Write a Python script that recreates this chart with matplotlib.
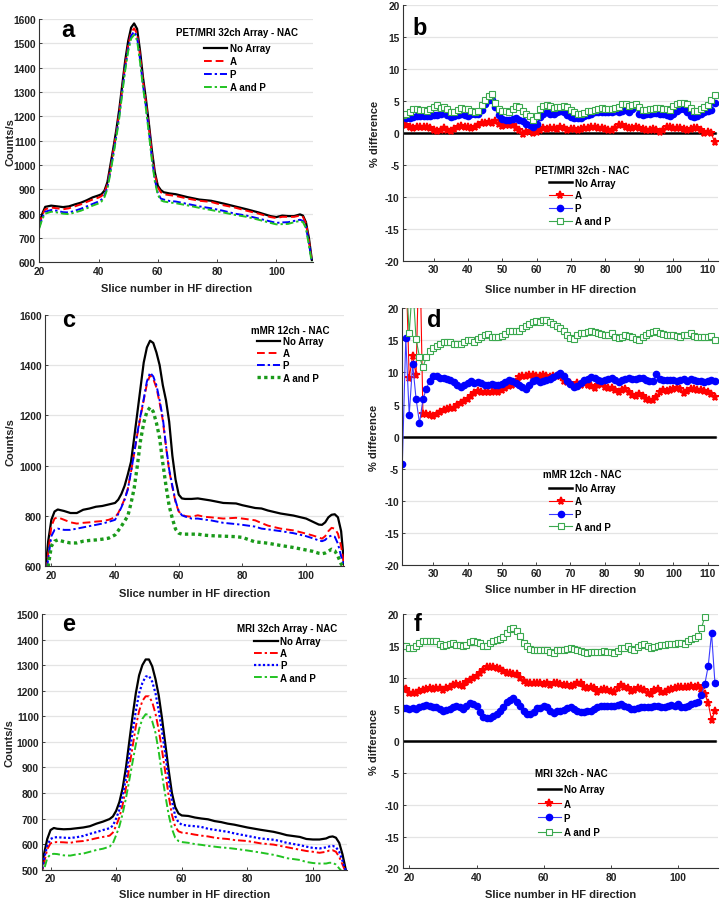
import numpy as np
import matplotlib
matplotlib.use("Agg")
import matplotlib.pyplot as plt
from matplotlib.font_manager import FontProperties

plt.rcParams['font.family'] = ['Liberation Sans', 'DejaVu Sans']
plt.rcParams['font.weight'] = 'bold'
plt.rcParams['axes.unicode_minus'] = False

# ---------------- Panel a : PET/MRI 32ch Array - NAC (profiles) ----------------
a_x = [20, 21, 22, 24, 26, 28, 30, 32, 34, 36, 38, 40, 41, 42, 43, 44, 45, 46, 47, 48,
       49, 50, 51, 52, 53, 54, 55, 56, 57, 58, 59, 60, 61, 62, 64, 66, 70, 74, 78, 82,
       86, 90, 94, 98, 100, 102, 104, 106, 108, 109, 110, 111, 112]
a_none = [760, 800, 828, 833, 830, 827, 830, 838, 845, 855, 867, 875, 880, 895, 930, 1000, 1070, 1145, 1230, 1330,
          1430, 1510, 1565, 1582, 1560, 1470, 1360, 1270, 1170, 1060, 970, 915, 897, 888, 883, 880, 868, 858, 853, 842,
          830, 818, 805, 790, 786, 792, 790, 790, 797, 792, 765, 700, 610]
a_A = [755, 795, 818, 825, 822, 818, 822, 830, 838, 848, 858, 866, 872, 888, 920, 985, 1058, 1132, 1215, 1315,
       1412, 1490, 1545, 1562, 1540, 1450, 1345, 1255, 1155, 1045, 960, 908, 888, 880, 876, 873, 862, 853, 848, 835,
       825, 812, 800, 786, 782, 787, 787, 787, 792, 787, 760, 690, 605]
a_P = [745, 785, 808, 815, 812, 806, 805, 812, 820, 830, 840, 850, 858, 875, 910, 975, 1048, 1122, 1205, 1305,
       1400, 1478, 1532, 1548, 1525, 1435, 1330, 1240, 1140, 1030, 940, 885, 862, 858, 852, 850, 840, 830, 822, 812,
       800, 792, 780, 768, 762, 764, 765, 770, 775, 770, 745, 680, 600]
a_AP = [740, 778, 800, 808, 805, 800, 798, 805, 812, 822, 833, 842, 850, 868, 903, 967, 1040, 1113, 1195, 1295,
        1390, 1468, 1520, 1535, 1513, 1423, 1320, 1230, 1128, 1020, 932, 878, 855, 850, 846, 843, 834, 824, 815, 805,
        795, 787, 775, 762, 756, 757, 758, 765, 770, 765, 740, 670, 598]

# ---------------- Panel b : % difference PET/MRI 32ch ----------------
b_x = list(range(21, 113))
b_A = [1.7, 1.3, 0.9, 0.8, 1.0, 1.0, 0.9, 1.0, 0.8, 0.5,
       0.3, 0.5, 0.8, 0.4, 0.3, 0.6, 0.9, 1.1, 0.9, 1.0,
       0.8, 1.0, 1.3, 1.6, 1.6, 1.7, 1.5, 1.8, 1.4, 1.1,
       1.2, 1.3, 1.2, 0.8, 0.5, -0.2, 0.1, 0.3, 0.0, 0.2,
       0.5, 0.8, 0.6, 0.8, 0.7, 0.6, 0.9, 0.8, 0.5, 0.6,
       0.6, 0.5, 0.6, 0.7, 0.8, 1.0, 0.9, 0.8, 0.7, 0.6,
       0.5, 0.4, 0.8, 1.2, 1.2, 0.9, 0.8, 0.8, 0.9, 0.8,
       0.6, 0.5, 0.5, 0.6, 0.5, 0.2, 0.5, 0.9, 1.0, 0.8,
       0.7, 0.8, 0.6, 0.5, 0.6, 0.8, 0.8, 0.4, 0.0, 0.1,
       0.0, -1.4]
b_P = [2.6, 2.4, 2.4, 2.5, 2.7, 2.6, 2.6, 2.6, 2.7, 2.8,
       2.8, 3.0, 3.2, 2.8, 2.5, 2.6, 2.8, 3.0, 2.8, 2.7,
       2.9, 3.0, 2.9, 3.6, 4.5, 5.1, 5.2, 4.0, 2.8, 2.2,
       2.1, 2.1, 2.2, 2.3, 2.1, 1.8, 1.4, 1.3, 1.0, 1.4,
       2.5, 3.0, 3.2, 3.0, 2.9, 3.3, 3.5, 3.2, 2.8, 2.5,
       2.3, 2.3, 2.4, 2.6, 2.8, 3.0, 3.2, 3.2, 3.2, 3.3,
       3.3, 3.3, 3.4, 3.3, 3.5, 3.6, 3.3, 3.8, 4.0, 3.0,
       2.8, 2.9, 3.0, 3.1, 3.1, 3.0, 3.0, 2.8, 2.7, 3.0,
       3.5, 3.8, 3.7, 3.2, 2.7, 2.5, 2.6, 2.9, 3.2, 3.5,
       3.6, 4.7]
b_AP = [2.8, 2.9, 3.2, 3.7, 3.7, 3.6, 3.6, 3.4, 3.7, 4.0,
        4.3, 3.9, 4.1, 3.8, 3.3, 3.3, 3.6, 3.9, 3.8, 3.7,
        3.5, 3.3, 3.5, 4.3, 5.2, 5.8, 6.1, 4.7, 3.7, 3.5,
        3.4, 3.2, 3.7, 4.2, 4.1, 3.5, 3.0, 2.6, 2.0, 2.6,
        3.7, 4.2, 4.3, 4.2, 3.9, 4.0, 4.1, 4.2, 4.0, 3.6,
        3.2, 3.0, 3.0, 3.1, 3.4, 3.5, 3.6, 3.8, 3.9, 3.8,
        3.7, 3.8, 3.9, 4.0, 4.6, 4.5, 4.2, 4.4, 4.6, 4.0,
        3.6, 3.6, 3.7, 3.8, 3.9, 3.9, 3.8, 3.7, 3.6, 4.2,
        4.6, 4.7, 4.7, 4.6, 3.9, 3.5, 3.5, 3.7, 4.0, 4.4,
        5.1, 6.0]
b_none = [0.0] * len(b_x)

# ---------------- Panel c : mMR 12ch - NAC (profiles) ----------------
c_x = [18, 19, 20, 21, 22, 24, 26, 28, 30, 32, 34, 36, 38,
       40, 41, 42, 43, 44, 45, 46, 47, 48, 49, 50, 51, 52, 53, 54, 55, 56, 57, 58, 59, 60, 61, 62,
       64, 66, 68, 70, 74, 78, 80, 84, 86, 88, 92, 96, 100,
       102, 104, 105, 106, 107, 108, 109, 110, 111, 112]
c_none = [560, 700, 785, 818, 826, 820, 812, 812, 825, 830, 837, 840, 846,
          852, 865, 888, 920, 965, 1015, 1110, 1210, 1310, 1410, 1470, 1497, 1488, 1450, 1400, 1320, 1260, 1175, 1040, 945, 885, 870, 868,
          868, 870, 866, 862, 852, 850, 843, 832, 830, 822, 810, 802, 790,
          778, 766, 765, 775, 795, 805, 807, 795, 740, 600]
c_A = [540, 650, 760, 790, 795, 785, 775, 770, 773, 775, 778, 780, 785,
       795, 812, 838, 868, 908, 975, 1048, 1125, 1195, 1260, 1325, 1360, 1345, 1310, 1250, 1180, 1075, 980, 915, 855, 818, 806, 800,
       797, 803, 797, 795, 790, 793, 790, 783, 772, 762, 750, 743, 730,
       723, 715, 710, 720, 740, 753, 750, 730, 680, 600]
c_P = [530, 630, 720, 745, 750, 745, 745, 750, 755, 760, 765, 770, 777,
       785, 808, 835, 865, 905, 975, 1050, 1130, 1200, 1265, 1335, 1370, 1355, 1320, 1260, 1190, 1080, 985, 920, 860, 820, 803, 798,
       790, 790, 786, 783, 773, 768, 765, 758, 750, 747, 740, 732, 720,
       712, 703, 700, 705, 718, 722, 718, 690, 640, 600]
c_AP = [520, 600, 680, 700, 705, 698, 693, 693, 700, 703, 705, 708, 712,
        725, 742, 760, 780, 800, 850, 910, 1000, 1100, 1170, 1215, 1232, 1215, 1170, 1110, 1010, 920, 840, 790, 748, 732, 728, 728,
        728, 728, 724, 722, 720, 718, 715, 697, 695, 692, 683, 675, 665,
        660, 652, 650, 653, 660, 668, 662, 640, 610, 590]

# ---------------- Panel d : % difference mMR 12ch ----------------
d_x = list(range(21, 113))
d_A = [35, 28, 9.1, 12.6, 9.6, 32, 3.6, 3.5, 3.3, 3.2,
       3.6, 3.9, 4.2, 4.3, 4.4, 4.5, 4.9, 5.2, 5.5, 5.8,
       6.3, 6.8, 7.1, 6.9, 6.9, 6.9, 7.0, 7.1, 6.9, 7.3,
       7.6, 7.9, 8.1, 8.5, 9.3, 9.4, 9.5, 9.6, 9.6, 9.5,
       9.4, 9.6, 9.5, 9.3, 9.5, 9.4, 9.5, 8.6, 8.5, 8.3,
       7.9, 8.3, 8.0, 8.3, 8.0, 7.9, 7.6, 8.1, 8.2, 7.7,
       7.6, 7.6, 7.3, 7.0, 7.2, 7.4, 7.0, 6.5, 6.4, 6.6,
       6.4, 5.8, 5.7, 5.7, 6.2, 6.9, 7.2, 7.1, 7.2, 7.5,
       7.6, 7.4, 6.8, 7.1, 7.4, 7.5, 7.3, 7.2, 7.1, 6.9,
       6.6, 6.1]
d_P = [-4.2, 15.3, 3.4, 11.3, 5.9, 2.1, 5.8, 7.5, 8.7, 9.5,
       9.4, 9.2, 9.2, 9.0, 8.8, 8.5, 8.0, 7.8, 8.0, 8.3,
       8.6, 8.4, 8.5, 8.3, 8.1, 8.1, 8.2, 8.1, 8.1, 8.2,
       8.5, 8.8, 8.6, 8.3, 8.0, 7.7, 7.5, 8.0, 8.6, 8.8,
       8.5, 8.6, 8.8, 9.0, 9.3, 9.6, 9.9, 9.5, 8.7, 8.2,
       7.7, 7.9, 8.3, 8.8, 9.0, 9.3, 9.2, 8.9, 8.6, 8.9,
       9.0, 9.2, 8.9, 8.5, 8.8, 9.0, 9.1, 9.0, 9.0, 9.1,
       9.1, 8.8, 8.6, 8.7, 9.7, 9.0, 8.9, 8.8, 8.9, 8.9,
       8.7, 8.9, 9.0, 8.7, 9.0, 8.8, 8.7, 8.6, 8.5, 8.6,
       8.8, 8.6]
d_AP = [30, 26, 16.1, 24, 15.2, 12.4, 10.8, 12.4, 13.3, 13.8,
        14.2, 14.5, 14.8, 14.8, 14.7, 14.5, 14.4, 14.5, 14.8, 15.0,
        15.0, 14.8, 15.2, 15.6, 15.9, 16.0, 15.6, 15.6, 15.6, 15.7,
        16.0, 16.4, 16.4, 16.4, 16.5, 16.9, 17.2, 17.6, 17.9, 18.0,
        17.9, 18.1, 18.2, 17.8, 17.5, 17.3, 17.0, 16.4, 15.8, 15.3,
        15.2, 15.8, 16.2, 16.2, 16.3, 16.4, 16.3, 16.1, 16.0, 15.8,
        15.9, 16.2, 15.5, 15.3, 15.6, 15.8, 15.7, 15.6, 15.2, 15.1,
        15.5, 15.8, 16.2, 16.3, 16.4, 16.2, 16.0, 15.9, 15.8, 15.8,
        15.7, 15.6, 15.8, 15.8, 16.1, 15.7, 15.5, 15.5, 15.5, 15.6,
        15.7, 15.1]
d_none = [0.0] * len(d_x)

# ---------------- Panel e : MRI 32ch Array - NAC (profiles) ----------------
e_x = [17, 18, 19, 20, 21, 22, 24, 26, 28, 30, 32, 34, 36, 38, 39,
       40, 41, 42, 43, 44, 45, 46, 47, 48, 49, 50, 51, 52, 53, 54, 55, 56, 57, 58, 59, 60,
       62, 64, 66, 68, 70, 72, 74, 76, 80, 84, 88, 90, 92, 96, 98, 100,
       102, 104, 105, 106, 107, 108, 109, 110]
e_none = [480, 560, 620, 655, 663, 660, 658, 659, 662, 665, 670, 680, 688, 698, 708,
          730, 765, 820, 900, 1000, 1100, 1190, 1260, 1300, 1322, 1322, 1295, 1245, 1180, 1090, 990, 890, 800, 745, 720, 712,
          710, 704, 700, 697, 690, 686, 680, 676, 665, 656, 648, 642, 635, 628, 620, 618,
          618, 622, 628, 630, 625, 605, 560, 500]
e_A = [460, 525, 580, 603, 607, 608, 607, 605, 610, 612, 617, 623, 628, 633, 645,
       672, 705, 755, 820, 900, 980, 1060, 1120, 1160, 1178, 1178, 1155, 1110, 1045, 965, 880, 790, 715, 668, 650, 645,
       642, 637, 633, 630, 625, 622, 620, 616, 612, 603, 598, 593, 588, 578, 573, 570,
       566, 570, 575, 576, 570, 550, 520, 490]
e_P = [470, 540, 595, 620, 626, 627, 625, 624, 627, 632, 640, 647, 655, 662, 672,
       700, 735, 790, 860, 950, 1040, 1120, 1190, 1230, 1255, 1258, 1235, 1190, 1120, 1040, 950, 850, 770, 710, 685, 676,
       672, 670, 667, 660, 656, 652, 648, 642, 632, 622, 617, 612, 605, 596, 590, 585,
       583, 587, 591, 593, 588, 570, 535, 495]
e_AP = [450, 500, 545, 560, 562, 561, 556, 555, 560, 563, 570, 577, 582, 590, 603,
        635, 670, 720, 780, 850, 920, 990, 1050, 1090, 1108, 1105, 1080, 1035, 960, 870, 790, 715, 660, 625, 612, 608,
        605, 600, 597, 593, 590, 587, 585, 582, 575, 567, 558, 552, 545, 538, 530, 526,
        524, 524, 527, 527, 520, 505, 490, 480]

# ---------------- Panel f : % difference MRI 32ch ----------------
f_x = list(range(18, 112))
f_A = [8.3, 8.2, 7.6, 7.5, 7.6, 7.9, 8.0, 8.2, 8.4, 8.2,
       8.3, 8.3, 8.1, 8.3, 8.6, 8.8, 9.0, 8.9, 8.7, 9.3,
       9.7, 9.9, 10.2, 10.8, 11.2, 11.7, 11.7, 11.6, 11.5, 11.3,
       11.0, 10.8, 10.7, 10.6, 10.6, 9.9, 9.4, 9.2, 9.2, 9.1,
       9.2, 9.2, 9.0, 9.1, 8.9, 9.2, 9.1, 9.0, 8.8, 8.8, 8.7,
       8.8, 9.1, 9.2, 8.5, 8.4, 8.5, 8.3, 7.8, 8.1, 8.2,
       8.1, 7.9, 7.7, 8.3, 8.8, 8.5, 8.3, 7.9, 8.0, 8.3,
       8.2, 8.0, 7.5, 7.4, 8.0, 8.2, 7.8, 7.8, 8.0, 8.2,
       8.3, 8.5, 8.6, 8.5, 8.5, 8.7, 8.6, 8.7, 8.2,
       7.4, 6.0, 3.3, 4.8]
f_P = [5.2, 5.2, 5.1, 5.2, 5.1, 5.3, 5.6, 5.7, 5.5, 5.3,
       5.4, 5.0, 4.8, 4.9, 5.1, 5.3, 5.5, 5.4, 5.1, 5.5,
       6.0, 5.8, 5.6, 4.6, 3.8, 3.7, 3.7, 3.9, 4.3, 4.8,
       5.4, 6.2, 6.5, 6.8, 6.2, 5.5, 4.8, 4.3, 4.2, 4.6,
       5.2, 5.2, 5.6, 5.4, 4.8, 4.5, 4.8, 4.8, 4.9, 5.2, 5.4,
       5.1, 4.8, 4.6, 4.6, 4.7, 4.8, 5.0, 5.3, 5.5, 5.6,
       5.6, 5.5, 5.6, 5.7, 5.9, 5.6, 5.3, 5.0, 5.1, 5.2,
       5.3, 5.4, 5.4, 5.4, 5.5, 5.5, 5.4, 5.4, 5.5, 5.7,
       5.6, 5.8, 5.4, 5.3, 5.6, 5.8, 6.0, 6.2,
       7.3, 9.0, 11.8, 17.0, 9.2]
f_x_AP = list(range(18, 109))
f_AP = [14.9, 14.9, 14.7, 14.6, 15.0, 15.5, 15.8, 15.8, 15.7, 15.7,
        15.8, 15.3, 15.0, 15.1, 15.3, 15.4, 15.2, 15.1, 15.0, 15.2,
        15.6, 15.7, 15.6, 15.4, 15.0, 14.9, 15.4, 15.7, 15.9, 16.0,
        16.4, 17.0, 17.6, 17.8, 17.3, 16.5, 15.5, 15.0, 14.5, 14.3,
        14.3, 14.3, 14.4, 14.3, 14.0, 13.8, 14.3, 14.4, 14.4, 14.5, 14.7,
        14.5, 14.3, 14.2, 14.0, 13.9, 14.0, 14.1, 14.1, 14.1, 14.2,
        14.1, 14.0, 13.9, 14.2, 14.6, 14.7, 14.9, 14.5, 14.3, 14.8,
        15.1, 15.3, 15.0, 14.6, 14.8, 15.0, 15.2, 15.2, 15.3, 15.3,
        15.3, 15.5, 15.4, 15.3, 15.7, 16.0, 16.3, 16.6, 17.8, 19.6]
f_none = [0.0] * len(f_x)

series_labels = ['No Array', 'A', 'P', 'A and P']

# ---------------- drawing ----------------
fig = plt.figure(figsize=(7.2, 9.03), dpi=100)

TICK_FS = 7.4
LAB_FS = 8.0
LEG_FS = 7.0
legprop = FontProperties(family='Liberation Sans', weight='bold', size=LEG_FS)

RED = '#ff0000'
BLUE = '#0000ff'
GREEN_A = '#22c322'
GREEN_C = '#1a9a1a'
GREEN_M = '#3aa84e'


def style(ax, xlim, ylim, xticks, yticks, ylabel, labpos):
    ax.set_xlim(*xlim)
    ax.set_ylim(*ylim)
    ax.set_xticks(xticks)
    ax.set_yticks(yticks)
    ax.yaxis.grid(True, color='#e4e4e4', lw=0.9)
    ax.set_axisbelow(True)
    for s in ['top', 'right']:
        ax.spines[s].set_visible(False)
    for s in ['left', 'bottom']:
        ax.spines[s].set_color('#333333')
        ax.spines[s].set_linewidth(0.8)
    ax.tick_params(labelsize=TICK_FS, direction='in', length=2.5, width=0.6, pad=2.5,
                   colors='#222222')
    for t in ax.get_xticklabels() + ax.get_yticklabels():
        t.set_fontweight('bold')
    ax.set_xlabel('Slice number in HF direction', fontsize=LAB_FS, fontweight='bold',
                  color='#222222', va='center')
    ax.set_ylabel(ylabel, fontsize=LAB_FS, fontweight='bold', color='#222222', va='center')
    ax.yaxis.set_label_coords(labpos[0], 0.5)
    ax.xaxis.set_label_coords(0.5, labpos[1])


def panel_letter(ax, letter, x, y):
    ax.text(x, y, letter, transform=ax.transAxes, fontsize=17, fontweight='bold',
            ha='center', va='center', color='black')


def add_legend(ax, title, cx, ty, ly, spacing):
    ax.text(cx, ty, title, transform=ax.transAxes, fontproperties=legprop,
            ha='center', va='center', color='black')
    leg = ax.legend(series_labels, loc='upper center', bbox_to_anchor=(cx, ly),
                    frameon=False, prop=legprop,
                    handlelength=2.4, handletextpad=0.25, labelspacing=spacing,
                    borderpad=0.0, borderaxespad=0.0)
    return leg


def profile_panel(rect, x, none, A, P, AP, styles, xlim, ylim, yticks, letter, lpos, title, leg_pos, labpos):
    ax = fig.add_axes(rect)
    ax.plot(x, none, color='black', lw=1.6, ls='-')
    ax.plot(x, A, color=RED, lw=styles[0][1], ls=styles[0][0])
    ax.plot(x, P, color=BLUE, lw=styles[1][1], ls=styles[1][0])
    ax.plot(x, AP, color=styles[2][2], lw=styles[2][1], ls=styles[2][0])
    style(ax, xlim, ylim, [20, 40, 60, 80, 100], yticks, 'Counts/s', labpos)
    panel_letter(ax, letter, *lpos)
    add_legend(ax, title, *leg_pos)
    return ax


def diff_panel(rect, x, none, A, P, xap, AP, xlim, xticks, letter, lpos, title, leg_pos, labpos):
    ax = fig.add_axes(rect)
    ax.plot(x, none, color='black', lw=1.8)
    ax.plot(x, A, color=RED, lw=0.8, marker='*', ms=5.8, mew=1.3, mec=RED, mfc=RED)
    ax.plot(x, P, color='#3b3bff', lw=0.8, marker='o', ms=4.5, mec=BLUE, mfc=BLUE)
    ax.plot(xap, AP, color=GREEN_M, lw=0.8, marker='s', ms=4.0, mew=0.8, mec=GREEN_M, mfc='white')
    style(ax, xlim, (-20, 20), xticks, list(range(-20, 21, 5)), '% difference', labpos)
    panel_letter(ax, letter, *lpos)
    add_legend(ax, title, *leg_pos)
    return ax


DASH = (0, (4.0, 2.0))
DASHDOT = (0, (4.0, 1.5, 1.2, 1.5))
DOT = (0, (1.0, 1.0))

profile_panel([0.0546, 0.7084, 0.3806, 0.2694], a_x, a_none, a_A, a_P, a_AP,
              [(DASH, 1.4), (DASHDOT, 1.4), (DASHDOT, 1.4, GREEN_A)],
              (20, 112.5), (600, 1600), list(range(600, 1601, 100)), 'a', (0.106, 0.956),
              'PET/MRI 32ch Array - NAC', (0.7215, 0.9466, 0.900, 0.3), (-0.105, -0.106))

diff_panel([0.5597, 0.7099, 0.4375, 0.2835], b_x, b_none, b_A, b_P, b_x, b_AP,
           (21, 113), list(range(30, 111, 10)), 'b', (0.054, 0.913),
           'PET/MRI 32ch - NAC', (0.568, 0.357, 0.326, 0.3), (-0.089, -0.109))

profile_panel([0.0625, 0.3717, 0.4157, 0.2786], c_x, c_none, c_A, c_P, c_AP,
              [(DASH, 1.4), (DASHDOT, 1.4), (DOT, 2.4, GREEN_C)],
              (18, 112), (600, 1600), list(range(600, 1601, 200)), 'c', (0.078, 0.983),
              'mMR 12ch - NAC', (0.8186, 0.940, 0.915, 0.22), (-0.115, -0.107))

diff_panel([0.5588, 0.3732, 0.4385, 0.2843], d_x, d_none, d_A, d_P, d_x, d_AP,
           (21, 113), list(range(30, 111, 10)), 'd', (0.10, 0.958),
           'mMR 12ch - NAC', (0.569, 0.3545, 0.319, 0.3), (-0.09, -0.094))

profile_panel([0.0588, 0.0358, 0.4228, 0.2832], e_x, e_none, e_A, e_P, e_AP,
              [(DASHDOT, 1.4), (DOT, 1.6), (DASHDOT, 1.4, GREEN_A)],
              (17.5, 110.3), (500, 1500), list(range(500, 1501, 100)), 'e', (0.085, 0.961),
              'MRI 32ch Array - NAC', (0.8055, 0.944, 0.913, 0.22), (-0.107, -0.095))

diff_panel([0.5593, 0.0373, 0.4383, 0.2816], f_x, f_none, f_A, f_P, f_x_AP, f_AP,
           (18, 112), [20, 40, 60, 80, 100], 'f', (0.046, 0.961),
           'MRI 32ch - NAC', (0.533, 0.3748, 0.331, 0.45), (-0.091, -0.101))

fig.savefig('out.png', dpi=100, facecolor='white')
